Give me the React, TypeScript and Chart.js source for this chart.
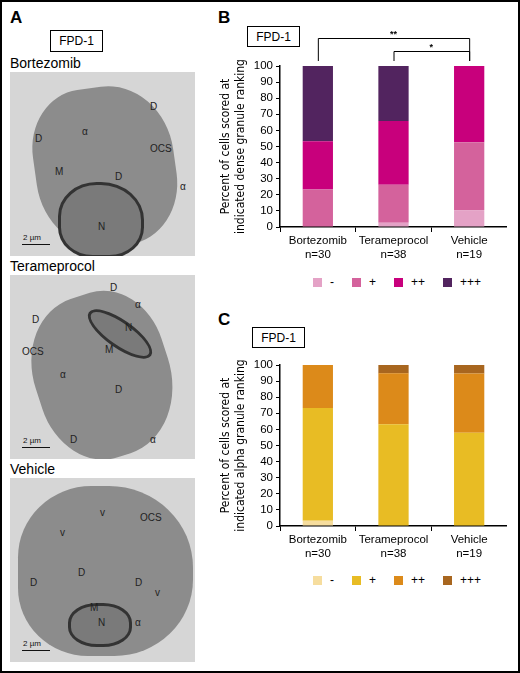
import React, { useEffect, useRef } from "react";
import { Chart, registerables } from "chart.js";

Chart.register(...registerables);

const categories = ["Bortezomib", "Terameprocol", "Vehicle"];
const sampleSizes = ["n=30", "n=38", "n=19"];
const rankLabels = ["-", "+", "++", "+++"];
const yTicks = [0, 10, 20, 30, 40, 50, 60, 70, 80, 90, 100];

// Panel B: dense granule ranking (% of cells)
const denseMinus = [0, 2.6, 10.5];
const densePlus = [23.3, 23.7, 42.1];
const densePlusPlus = [30.0, 39.5, 47.4];
const densePlusPlusPlus = [46.7, 34.2, 0];

// Panel C: alpha granule ranking (% of cells)
const alphaMinus = [3.3, 0, 0];
const alphaPlus = [70.0, 63.2, 57.9];
const alphaPlusPlus = [26.7, 31.6, 36.8];
const alphaPlusPlusPlus = [0, 5.3, 5.3];

const denseColors = ["#e4a2c6", "#d4629c", "#c8007c", "#52245f"];
const alphaColors = ["#f6dd9e", "#e8bc24", "#dc8a1a", "#a8661f"];

// significance brackets for panel B: [fromIndex, toIndex, label]
const denseBrackets: [number, number, string][] = [
  [0, 2, "**"],
  [1, 2, "*"],
];

const SANS = '"Liberation Sans", Arial, Helvetica, sans-serif';
const NARROW = '"Liberation Sans Narrow", "DejaVu Sans Condensed", "Liberation Sans", Arial, sans-serif';

type ChartProps = {
  top: number;
  series: number[][];
  colors: string[];
  yTitle: string[];
  brackets?: [number, number, string][];
};

function StackedChart({ top, series, colors, yTitle, brackets }: ChartProps) {
  const ref = useRef<HTMLCanvasElement | null>(null);
  useEffect(() => {
    if (!ref.current) return;
    const bracketPlugin = {
      id: "brackets",
      afterDraw(chart: any) {
        if (!brackets || !brackets.length) return;
        const ctx = chart.ctx;
        const xs = chart.scales.x;
        const area = chart.chartArea;
        ctx.save();
        ctx.strokeStyle = "#000";
        ctx.fillStyle = "#000";
        ctx.lineWidth = 1;
        const bottom = area.top - 5;
        brackets.forEach((b, i) => {
          const x1 = xs.getPixelForValue(b[0]);
          const x2 = xs.getPixelForValue(b[1]);
          const yy = area.top - 28 + i * 13;
          ctx.beginPath();
          ctx.moveTo(x1 + 0.5, bottom);
          ctx.lineTo(x1 + 0.5, yy + 0.5);
          ctx.lineTo(x2 + 0.5, yy + 0.5);
          ctx.lineTo(x2 + 0.5, bottom);
          ctx.stroke();
          ctx.font = "bold 9px " + SANS;
          ctx.textAlign = "center";
          ctx.textBaseline = "bottom";
          ctx.fillText(b[2], (x1 + x2) / 2, yy + 1);
        });
        ctx.restore();
      },
    };
    const chart = new Chart(ref.current, {
      type: "bar",
      data: {
        labels: categories.map((c, i) => [c, sampleSizes[i]]),
        datasets: series.map((d, i) => ({
          label: rankLabels[i],
          data: d,
          backgroundColor: colors[i],
          borderWidth: 0,
          barPercentage: 0.4,
          categoryPercentage: 1,
        })),
      },
      options: {
        animation: false,
        responsive: false,
        maintainAspectRatio: false,
        layout: { padding: { top: 46, right: 0, left: 0, bottom: 0 } },
        plugins: { legend: { display: false }, tooltip: { enabled: false } },
        scales: {
          x: {
            stacked: true,
            grid: { offset: true, drawOnChartArea: false, drawTicks: true, tickLength: 5, color: "#000", lineWidth: 1 },
            border: { display: true, color: "#000", width: 1.5 },
            ticks: {
              color: "#000",
              font: { family: SANS, size: 11.5, lineHeight: 1.22 },
              padding: 2,
              maxRotation: 0,
              autoSkip: false,
            },
            afterFit: (s: any) => {
              s.height = 40;
            },
          },
          y: {
            stacked: true,
            min: 0,
            max: 100,
            afterBuildTicks: (s: any) => {
              s.ticks = yTicks.map((v) => ({ value: v }));
            },
            ticks: { color: "#000", font: { family: SANS, size: 11.5 }, padding: 3, autoSkip: false },
            grid: { drawOnChartArea: false, drawTicks: true, tickLength: 4, color: "#000", lineWidth: 1 },
            border: { display: true, color: "#000", width: 1.5 },
            title: {
              display: true,
              text: yTitle,
              color: "#000",
              font: { family: NARROW, size: 12, lineHeight: 1.2 },
              padding: { top: 4, bottom: 0 },
            },
            afterFit: (s: any) => {
              s.width = 65;
            },
          },
        },
      },
      plugins: [bracketPlugin],
    });
    return () => chart.destroy();
  }, []);
  return (
    <canvas
      ref={ref}
      width={292}
      height={247}
      style={{ position: "absolute", left: 215, top, width: 292, height: 247 }}
    />
  );
}

function Legend({ top, colors }: { top: number; colors: string[] }) {
  return (
    <div
      style={{
        position: "absolute",
        left: 313,
        top,
        display: "flex",
        alignItems: "center",
        gap: 18,
        fontFamily: SANS,
        fontSize: 12,
        color: "#000",
        lineHeight: "14px",
      }}
    >
      {rankLabels.map((l, i) => (
        <div key={l} style={{ display: "flex", alignItems: "center" }}>
          <div style={{ width: 9, height: 9, background: colors[i], marginRight: 8 }} />
          <span>{l}</span>
        </div>
      ))}
    </div>
  );
}

function Box({ left, top, width, height }: { left: number; top: number; width: number; height: number }) {
  return (
    <div
      style={{
        position: "absolute",
        left,
        top,
        width,
        height,
        boxSizing: "border-box",
        border: "1px solid #000",
        display: "flex",
        alignItems: "center",
        justifyContent: "center",
        fontFamily: SANS,
        fontSize: 12,
        color: "#000",
      }}
    >
      FPD-1
    </div>
  );
}

function Label({ left, top, text, size, bold }: { left: number; top: number; text: string; size: number; bold?: boolean }) {
  return (
    <div
      style={{
        position: "absolute",
        left,
        top,
        fontFamily: SANS,
        fontSize: size,
        fontWeight: bold ? "bold" : "normal",
        color: "#000",
        lineHeight: 1,
        whiteSpace: "nowrap",
      }}
    >
      {text}
    </div>
  );
}

type Micro = { top: number; cell: React.CSSProperties; nucleus: React.CSSProperties; notes: [number, number, string][] };

function Micrograph({ top, cell, nucleus, notes }: Micro) {
  return (
    <div
      style={{
        position: "absolute",
        left: 10,
        top,
        width: 185,
        height: 184,
        background: "#d6d6d6",
        overflow: "hidden",
      }}
    >
      <div style={{ position: "absolute", background: "#8c8c8c", ...cell }} />
      <div style={{ position: "absolute", background: "#7a7a7a", border: "3px solid #333", ...nucleus }} />
      {notes.map(([x, y, t], i) => (
        <div
          key={i}
          style={{ position: "absolute", left: x, top: y, fontFamily: SANS, fontSize: 10, color: "#222", lineHeight: 1 }}
        >
          {t}
        </div>
      ))}
      <div style={{ position: "absolute", left: 12, top: 172, width: 28, height: 1, background: "#111" }} />
      <div style={{ position: "absolute", left: 13, top: 162, fontFamily: SANS, fontSize: 8, color: "#111", lineHeight: 1 }}>
        2 µm
      </div>
    </div>
  );
}

export default function App() {
  return (
    <div
      style={{
        position: "absolute",
        left: 0,
        top: 0,
        width: 520,
        height: 673,
        background: "#fff",
        boxSizing: "border-box",
        border: "2px solid #000",
        overflow: "hidden",
      }}
    >
      <div style={{ position: "absolute", left: -2, top: -2, width: 520, height: 673 }}>
        {/* Panel A */}
        <Label left={10} top={9} text="A" size={17} bold />
        <Box left={50} top={30} width={53} height={22} />
        <Label left={10} top={56} text="Bortezomib" size={14} />
        <Micrograph
          top={72}
          cell={{ left: 25, top: 15, width: 140, height: 160, borderRadius: "38% 45% 40% 45%", transform: "rotate(-8deg)" }}
          nucleus={{ left: 48, top: 110, width: 80, height: 70, borderRadius: "45% 50% 40% 40%" }}
          notes={[[140, 30, "D"], [140, 72, "OCS"], [72, 55, "α"], [25, 62, "D"], [45, 95, "M"], [105, 100, "D"], [170, 110, "α"], [88, 150, "N"]]}
        />
        <Label left={10} top={259} text="Terameprocol" size={14} />
        <Micrograph
          top={275}
          cell={{ left: 25, top: 18, width: 135, height: 165, borderRadius: "45% 40% 48% 42%", transform: "rotate(-18deg)" }}
          nucleus={{ left: 72, top: 45, width: 70, height: 22, borderRadius: "50%", transform: "rotate(35deg)" }}
          notes={[[100, 8, "D"], [22, 40, "D"], [125, 25, "α"], [12, 72, "OCS"], [95, 70, "M"], [115, 48, "N"], [50, 95, "α"], [105, 110, "D"], [60, 160, "D"], [140, 160, "α"]]}
        />
        <Label left={10} top={462} text="Vehicle" size={14} />
        <Micrograph
          top={478}
          cell={{ left: 8, top: 8, width: 175, height: 170, borderRadius: "42% 48% 45% 40%" }}
          nucleus={{ left: 58, top: 125, width: 58, height: 38, borderRadius: "45%" }}
          notes={[[90, 30, "v"], [130, 35, "OCS"], [50, 50, "v"], [68, 90, "D"], [20, 100, "D"], [125, 100, "D"], [145, 110, "v"], [80, 125, "M"], [88, 140, "N"], [125, 140, "α"]]}
        />

        {/* Panel B */}
        <Label left={218} top={9} text="B" size={17} bold />
        <Box left={247} top={26} width={53} height={21} />
        <StackedChart
          top={20}
          series={[denseMinus, densePlus, densePlusPlus, densePlusPlusPlus]}
          colors={denseColors}
          yTitle={["Percent of cells scored at", "indicated dense granule ranking"]}
          brackets={denseBrackets}
        />
        <Legend top={275} colors={denseColors} />

        {/* Panel C */}
        <Label left={218} top={311} text="C" size={17} bold />
        <Box left={252} top={327} width={53} height={21} />
        <StackedChart
          top={319}
          series={[alphaMinus, alphaPlus, alphaPlusPlus, alphaPlusPlusPlus]}
          colors={alphaColors}
          yTitle={["Percent of cells scored at", "indicated alpha granule ranking"]}
        />
        <Legend top={573} colors={alphaColors} />
      </div>
    </div>
  );
}
